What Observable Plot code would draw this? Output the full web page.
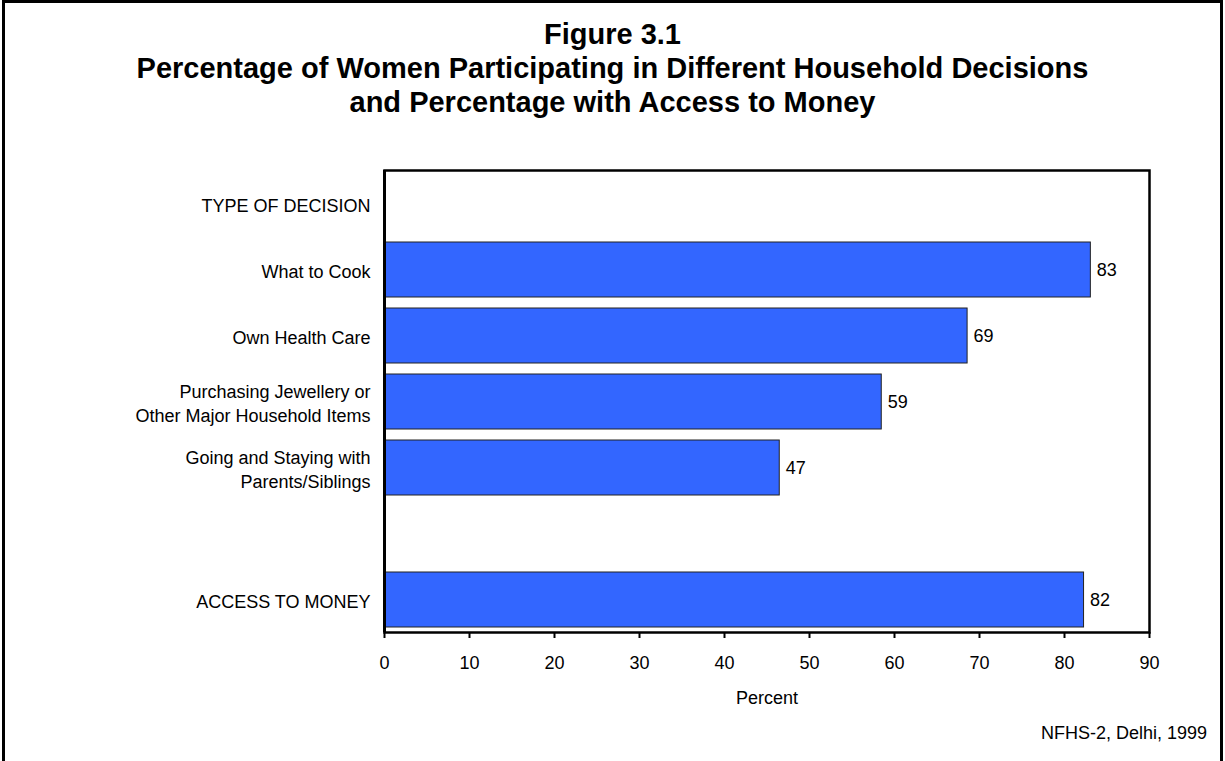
<!DOCTYPE html>
<html>
<head>
<meta charset="utf-8">
<script src="https://cdn.jsdelivr.net/npm/d3@7"></script>
<script src="https://cdn.jsdelivr.net/npm/@observablehq/plot@0.6"></script>
<style>
  html, body { margin: 0; padding: 0; overflow: hidden; background: #fff; }
  body { width: 1225px; height: 761px; position: relative; font-family: "Liberation Sans", Arial, sans-serif; }
  #border { position: absolute; left: 2px; top: 0px; width: 1221px; height: 820px; border: 3px solid #000; box-sizing: border-box; }
  #title { position: absolute; left: 0; top: 17px; width: 1225px; text-align: center; font-weight: bold; font-size: 29px; line-height: 34px; color: #000; }
  #chart { position: absolute; left: 0; top: 130px; }
  #caption { position: absolute; right: 18px; top: 724px; font-size: 18px; line-height: 18px; color: #000; }
</style>
</head>
<body>
<div id="border"></div>
<div id="title">Figure 3.1<br>Percentage of Women Participating in Different Household Decisions<br>and Percentage with Access to Money</div>
<div id="chart"></div>
<div id="caption">NFHS-2, Delhi, 1999</div>
<script>
// Rows of the chart (including the heading row and a blank spacer row)
const rowCategories = [
  "TYPE OF DECISION",
  "What to Cook",
  "Own Health Care",
  "Purchasing Jewellery or\nOther Major Household Items",
  "Going and Staying with\nParents/Siblings",
  " ",
  "ACCESS TO MONEY"
];
// Bars
const barCategories = [
  "What to Cook",
  "Own Health Care",
  "Purchasing Jewellery or\nOther Major Household Items",
  "Going and Staying with\nParents/Siblings",
  "ACCESS TO MONEY"
];
const barValues = [83.1, 68.6, 58.5, 46.5, 82.3];
const barLabels = ["83", "69", "59", "47", "82"];
const xTicks = [0, 10, 20, 30, 40, 50, 60, 70, 80, 90];

const data = barCategories.map((c, i) => ({category: c, value: barValues[i], label: barLabels[i]}));

const chart = Plot.plot({
  width: 1225,
  height: 590,
  marginTop: 40,
  marginBottom: 88,
  marginLeft: 384,
  marginRight: 76,
  style: {fontFamily: "'Liberation Sans', Arial, sans-serif", fontSize: "18px", background: "transparent", color: "#000"},
  x: {domain: [0, 90]},
  y: {domain: rowCategories, paddingInner: 0.167, paddingOuter: 0.083, align: 0.5},
  marks: [
    Plot.barX(data, {x: "value", y: "category", fill: "#3366FF", stroke: "#222", strokeWidth: 1}),
    Plot.text(data, {x: "value", y: "category", text: "label", dx: 6, textAnchor: "start", fill: "#000", fontSize: 18}),
    Plot.frame({stroke: "#000", strokeWidth: 2.5}),
    Plot.ruleX([0], {stroke: "#000", strokeWidth: 3}),
    Plot.axisX({ticks: xTicks, tickSize: 6, tickPadding: 18, strokeWidth: 2, label: "Percent", labelAnchor: "center", labelOffset: 71, labelArrow: "none", fontSize: 18}),
    Plot.axisY({tickSize: 0, tickPadding: 14, label: null, fontSize: 18, lineHeight: 1.33})
  ]
});
document.getElementById("chart").appendChild(chart);
</script>
</body>
</html>
